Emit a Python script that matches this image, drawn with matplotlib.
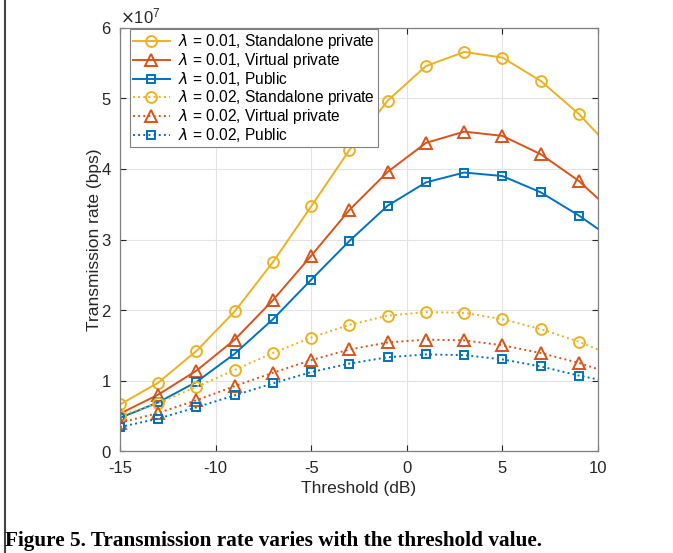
import matplotlib
matplotlib.use("Agg")
import matplotlib.pyplot as plt
from matplotlib.ticker import ScalarFormatter
from matplotlib.lines import Line2D

# threshold (dB); last point lies just past the axis limit and is clipped
threshold = [-15, -13, -11, -9, -7, -5, -3, -1, 1, 3, 5, 7, 9, 11]

# transmission rate, x1e7 bps
std_001 = [0.66, 0.97, 1.42, 1.98, 2.68, 3.47, 4.27, 4.97, 5.46, 5.66, 5.58, 5.25, 4.78, 4.20]
vir_001 = [0.53, 0.80, 1.14, 1.58, 2.14, 2.77, 3.42, 3.96, 4.37, 4.53, 4.47, 4.21, 3.83, 3.33]
pub_001 = [0.47, 0.69, 0.98, 1.38, 1.87, 2.43, 2.98, 3.48, 3.81, 3.95, 3.90, 3.67, 3.34, 2.96]
std_002 = [0.50, 0.68, 0.91, 1.15, 1.39, 1.61, 1.79, 1.92, 1.97, 1.96, 1.87, 1.73, 1.55, 1.33]
vir_002 = [0.40, 0.54, 0.72, 0.92, 1.11, 1.29, 1.44, 1.54, 1.58, 1.57, 1.50, 1.39, 1.25, 1.07]
pub_002 = [0.34, 0.46, 0.62, 0.79, 0.96, 1.12, 1.24, 1.33, 1.37, 1.36, 1.30, 1.20, 1.07, 0.96]

labels = [
    r"$\lambda$ = 0.01, Standalone private",
    r"$\lambda$ = 0.01, Virtual private",
    r"$\lambda$ = 0.01, Public",
    r"$\lambda$ = 0.02, Standalone private",
    r"$\lambda$ = 0.02, Virtual private",
    r"$\lambda$ = 0.02, Public",
]

YEL, RED, BLU = "#EDB120", "#D95319", "#0072BD"

plt.rcParams["font.family"] = ["Liberation Sans", "DejaVu Sans"]
plt.rcParams["mathtext.fontset"] = "dejavusans"
plt.rcParams["axes.unicode_minus"] = False

fig = plt.figure(figsize=(6.73, 5.53), dpi=100)
ax = fig.add_axes([0.1783, 0.1844, 0.7103, 0.765])

series = [
    (std_001, YEL, "o", "-"),
    (vir_001, RED, "^", "-"),
    (pub_001, BLU, "s", "-"),
    (std_002, YEL, "o", ":"),
    (vir_002, RED, "^", ":"),
    (pub_002, BLU, "s", ":"),
]
for (vals, col, mk, ls), lab in zip(series, labels):
    ms = {"o": 7.8, "^": 8.2, "s": 5.4}[mk]
    ax.plot(threshold, [v * 1e7 for v in vals], color=col, ls=ls, lw=1.4,
            marker=mk, ms=ms, mfc="none", mec=col, mew=1.4, label=lab)

ax.set_xlim(-15, 10)
ax.set_ylim(0, 6e7)
ax.set_xticks([-15, -10, -5, 0, 5, 10])
ax.set_yticks([i * 1e7 for i in range(7)])
fmt = ScalarFormatter(useMathText=True)
fmt.set_powerlimits((0, 0))
ax.yaxis.set_major_formatter(fmt)
ax.yaxis.get_offset_text().set_fontsize(12)
ax.yaxis.get_offset_text().set_color("#262626")

ax.grid(True, color="#e3e3e3", lw=0.8)
ax.set_axisbelow(True)
ax.tick_params(direction="in", labelsize=12, colors="#262626", length=4,
               top=True, right=True)
ax.tick_params(axis="x", pad=7)
ax.tick_params(axis="y", pad=6)
for s in ax.spines.values():
    s.set_color("#808080")
    s.set_linewidth(0.9)

ax.set_xlabel("Threshold (dB)", fontsize=12.5, color="#262626", labelpad=4)
ax.set_ylabel("Transmission rate (bps)", fontsize=12.5, color="#262626", labelpad=-1)

leg = ax.legend(loc="upper left", bbox_to_anchor=(0.02, 0.997), fontsize=11.2,
                frameon=True, fancybox=False, edgecolor="#808080", framealpha=1,
                handlelength=2.4, borderaxespad=0.0, labelspacing=0.0,
                borderpad=0.2, handletextpad=0.5)
leg.get_frame().set_linewidth(0.8)

# page border on the left and the caption under the figure
fig.add_artist(Line2D([0.0075, 0.0075], [0, 1], color="#444444", lw=1.5))
fig.text(0.008, 0.012, "Figure 5. Transmission rate varies with the threshold value.",
         fontsize=15.3, fontweight="bold", family=["Liberation Serif", "DejaVu Serif"],
         ha="left", va="baseline")

fig.savefig("out.png", dpi=100)
